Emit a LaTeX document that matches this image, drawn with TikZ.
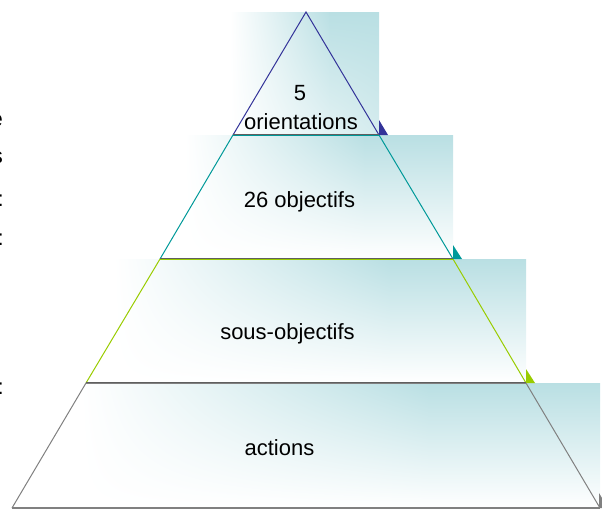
\documentclass[tikz,border=0pt]{standalone}
\usepackage{fontspec}
\setmainfont{Liberation Sans}
\usetikzlibrary{shadings}
\definecolor{tealbg}{RGB}{185,223,227}
\definecolor{cone}{RGB}{51,51,153}
\definecolor{ctwo}{RGB}{0,153,153}
\definecolor{cthree}{RGB}{153,204,0}
\definecolor{cfour}{RGB}{128,128,128}
\definecolor{cbase}{RGB}{95,95,95}
% gradient box: left, top, right, bottom, bottom colour at seam, bottom-right colour
\newcommand{\levelbox}[6]{%
  \pgfmathsetmacro{\lvseam}{#1+0.67*(#3-#1)}%
  \shade[upper left=white, lower left=white, upper right=tealbg, lower right=#5]
    (#1,#2) rectangle (\lvseam+0.5,#4);
  \shade[upper left=tealbg, upper right=tealbg, lower left=#5, lower right=#6]
    (\lvseam,#2) rectangle (#3,#4);
}
\begin{document}
\begin{tikzpicture}[x=1pt,y=-1pt,
  lbl/.style={font=\fontsize{22}{26}\selectfont, inner sep=0pt, anchor=base, text=black},
  edgeline/.style={line width=1pt, line join=miter}]
\useasboundingbox (0,0) rectangle (602,509);
% background gradient boxes
\levelbox{230}{12}{379}{135}{tealbg!40}{tealbg!60}
\levelbox{185}{135}{453}{259}{white}{white}
\levelbox{114}{259}{526}{383}{white}{white}
\levelbox{81}{383}{600}{508}{white}{white}
% pyramid corners
\coordinate (apex) at (306,12);
\coordinate (l1) at (233,135); \coordinate (r1) at (379,135);
\coordinate (l2) at (160,259); \coordinate (r2) at (453,259);
\coordinate (l3) at (86,383);  \coordinate (r3) at (526,383);
\coordinate (l4) at (12,508);  \coordinate (r4) at (600,508);
% sides
\draw[edgeline, cone] (l1) -- (apex) -- (r1);
\draw[edgeline, ctwo] (l1) -- (l2) (r1) -- (r2);
\draw[edgeline, cthree] (l2) -- (l3) (r2) -- (r3);
\draw[edgeline, cfour] (l3) -- (l4) (r3) -- (r4);
% level boundaries
\draw[edgeline, cbase] ([yshift=0.5pt]l1) -- ([yshift=0.5pt]r1);
\draw[edgeline, ctwo] ([yshift=-0.5pt]l1) -- ([yshift=-0.5pt]r1);
\draw[edgeline, cbase] ([yshift=0.5pt]l2) -- ([yshift=0.5pt]r2);
\draw[edgeline, cthree] ([yshift=-0.5pt]l2) -- ([yshift=-0.5pt]r2);
\draw[edgeline, cbase] ([yshift=0.5pt]l3) -- ([yshift=0.5pt]r3);
\draw[edgeline, cfour] ([yshift=-0.5pt]l3) -- ([yshift=-0.5pt]r3);
\draw[line width=1.5pt, cfour] (l4) -- (r4);
% corner markers
\fill[cone] (r1) -- ([yshift=15pt]r1) -- ([xshift=9pt]r1) -- cycle;
\fill[ctwo] (r2) -- ([yshift=14pt]r2) -- ([xshift=9pt]r2) -- cycle;
\fill[cthree] (r3) -- ([yshift=14pt]r3) -- ([xshift=9pt]r3) -- cycle;
\fill[cfour] ([xshift=-1pt]r4) -- ([xshift=-1pt,yshift=15pt]r4) -- ([xshift=8pt]r4) -- cycle;
% labels
\node[lbl] (t5) at (300,100) {5};
\node[lbl] (tor) at (301,129) {orientations};
\node[lbl] (t26) at (299.5,207) {26 objectifs};
\node[lbl] (tso) at (287.5,339) {sous-objectifs};
\node[lbl] (tac) at (279.5,455) {actions};
% cut-off text at the left edge
\begin{scope}
\clip (0,0) rectangle (8,509);
\node[lbl, anchor=base east] (fa) at (3,126) {e};
\node[lbl, anchor=base east] (fb) at (3,163) {s};
\node[lbl, anchor=base east] (fc) at (4,206) {:};
\node[lbl, anchor=base east] (fd) at (4,245) {:};
\node[lbl, anchor=base east] (fe) at (4,394) {:};
\end{scope}
\end{tikzpicture}
\end{document}
